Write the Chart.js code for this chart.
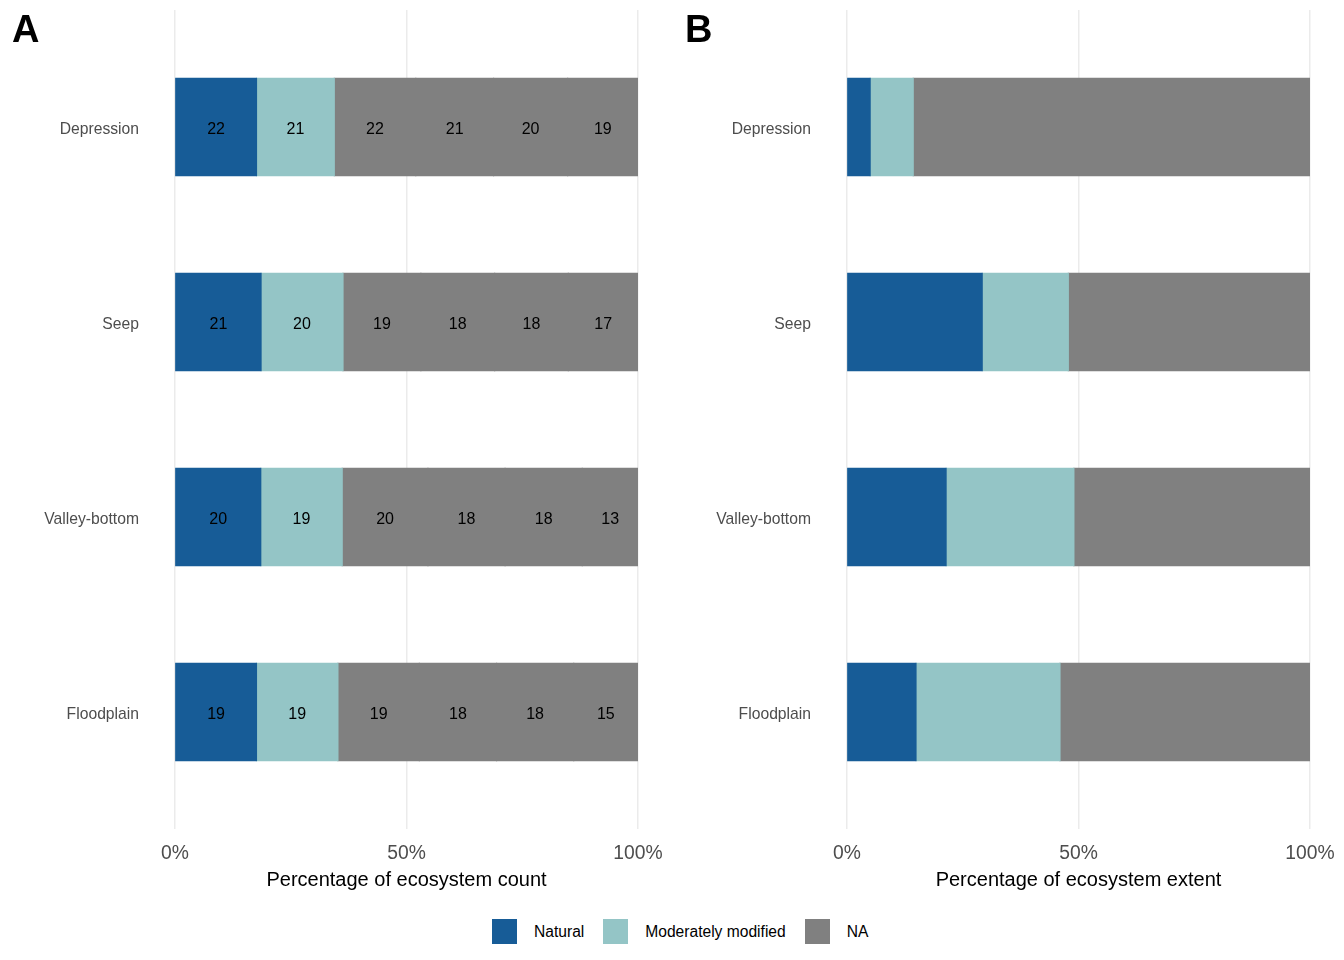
<!DOCTYPE html>
<html>
<head>
<meta charset="utf-8">
<script src="https://cdn.jsdelivr.net/npm/chart.js@4/dist/chart.umd.min.js"></script>
<style>
  body { margin: 0; background: #fff; font-family: "Liberation Sans", Arial, sans-serif; }
  #wrap { position: relative; width: 1344px; height: 960px; }
  .panel { position: absolute; top: 0; width: 672px; height: 900px; }
  .tag { position: absolute; top: 8px; font-size: 38px; font-weight: bold; color: #000; }
  #legend { position: absolute; top: 919px; left: 492px; display: flex; align-items: center; font-size: 15.6px; color: #000; }
  #legend span.box { display: inline-block; width: 25px; height: 25px; margin-right: 17px; }
  #legend span.lab { margin-right: 19px; }
</style>
</head>
<body>
<div id="wrap">
  <div class="panel" style="left:0"><canvas id="chartA"></canvas></div>
  <div class="panel" style="left:672px"><canvas id="chartB"></canvas></div>
  <div class="tag" style="left:12px">A</div>
  <div class="tag" style="left:685px">B</div>
  <div id="legend"></div>
</div>
<script>
const categories = ["Depression", "Seep", "Valley-bottom", "Floodplain"];

// Panel A: ecosystem counts per segment (NA holds four grey segments)
const naturalCount = [22, 21, 20, 19];
const moderateCount = [21, 20, 19, 19];
const naCount1 = [22, 19, 20, 19];
const naCount2 = [21, 18, 18, 18];
const naCount3 = [20, 18, 18, 18];
const naCount4 = [19, 17, 13, 15];

// Panel B: percentage of ecosystem extent
const naturalExtent = [5.0, 29.2, 21.4, 14.9];
const moderateExtent = [9.3, 18.6, 27.6, 31.1];
const naExtent = [85.7, 52.2, 51.0, 54.0];

const xTicks = [0, 50, 100];

const COLORS = { natural: "#175c97", moderate: "#94c5c6", na: "#808080" };
const FONT = "'Liberation Sans', Arial, sans-serif";

const legendItems = [
  { label: "Natural", color: COLORS.natural },
  { label: "Moderately modified", color: COLORS.moderate },
  { label: "NA", color: COLORS.na },
];

const positions = categories.map((c, i) => i + 1);

function toPoints(values) {
  return values.map((v, i) => ({ x: v, y: positions[i] }));
}

// Draw count labels inside each segment
const countLabels = {
  id: "countLabels",
  afterDatasetsDraw(chart) {
    const ctx = chart.ctx;
    ctx.save();
    ctx.font = "16px " + FONT;
    ctx.fillStyle = "#000";
    ctx.textAlign = "center";
    ctx.textBaseline = "middle";
    chart.data.datasets.forEach((ds, di) => {
      const meta = chart.getDatasetMeta(di);
      meta.data.forEach((bar, i) => {
        const p = bar.getCenterPoint();
        ctx.fillText(String(ds.counts[i]), p.x, p.y + 3);
      });
    });
    ctx.restore();
  },
};

function makeOptions(title) {
  return {
    indexAxis: "y",
    responsive: false,
    animation: false,
    layout: { padding: { top: 10, right: 34, left: 0, bottom: 0 } },
    plugins: { legend: { display: false }, tooltip: { enabled: false } },
    datasets: { bar: { barPercentage: 0.5, categoryPercentage: 1 } },
    scales: {
      x: {
        type: "linear",
        stacked: true,
        min: 0,
        max: 100,
        border: { display: false },
        grid: { color: "#ebebeb", lineWidth: 1.5, drawTicks: true, tickLength: 13, tickColor: "rgba(0,0,0,0)" },
        afterBuildTicks(scale) {
          scale.ticks = xTicks.map((v) => ({ value: v }));
        },
        afterFit(scale) {
          scale.height = 71;
        },
        ticks: {
          padding: 0,
          color: "#4d4d4d",
          font: { size: 19.3, family: FONT },
          callback: (v) => v + "%",
        },
        title: {
          display: true,
          text: title,
          color: "#000",
          font: { size: 20, family: FONT },
          padding: { top: 0, bottom: 8 },
        },
      },
      y: {
        type: "linear",
        stacked: true,
        reverse: true,
        offset: false,
        min: 0.4,
        max: 4.6,
        border: { display: false },
        grid: { display: false, drawTicks: true, tickLength: 36 },
        afterBuildTicks(scale) {
          scale.ticks = positions.map((v) => ({ value: v }));
        },
        afterFit(scale) {
          scale.width = 175;
        },
        ticks: {
          padding: 0,
          labelOffset: 3,
          color: "#4d4d4d",
          font: { size: 15.7, family: FONT },
          callback: (v) => categories[Math.round(v) - 1] || "",
        },
      },
    },
  };
}

function sizeCanvas(id) {
  const c = document.getElementById(id);
  c.width = 672;
  c.height = 900;
  c.style.width = "672px";
  c.style.height = "900px";
  return c;
}

function barSet(label, data, color, extra) {
  return Object.assign(
    { label, data, backgroundColor: color, borderWidth: 0, inflateAmount: 0.6 },
    extra || {},
  );
}

// Panel A: percentages from counts
const segmentsA = [
  { counts: naturalCount, color: COLORS.natural, label: "Natural" },
  { counts: moderateCount, color: COLORS.moderate, label: "Moderately modified" },
  { counts: naCount1, color: COLORS.na, label: "NA" },
  { counts: naCount2, color: COLORS.na, label: "NA" },
  { counts: naCount3, color: COLORS.na, label: "NA" },
  { counts: naCount4, color: COLORS.na, label: "NA" },
];
const totalsA = categories.map((c, i) =>
  segmentsA.reduce((s, seg) => s + seg.counts[i], 0),
);

new Chart(sizeCanvas("chartA"), {
  type: "bar",
  data: {
    datasets: segmentsA.map((seg) =>
      barSet(
        seg.label,
        toPoints(seg.counts.map((v, i) => (v / totalsA[i]) * 100)),
        seg.color,
        { counts: seg.counts },
      ),
    ),
  },
  options: makeOptions("Percentage of ecosystem count"),
  plugins: [countLabels],
});

new Chart(sizeCanvas("chartB"), {
  type: "bar",
  data: {
    datasets: [
      barSet("Natural", toPoints(naturalExtent), COLORS.natural),
      barSet("Moderately modified", toPoints(moderateExtent), COLORS.moderate),
      barSet("NA", toPoints(naExtent), COLORS.na),
    ],
  },
  options: makeOptions("Percentage of ecosystem extent"),
});

// Shared legend
const legend = document.getElementById("legend");
legendItems.forEach((item) => {
  const box = document.createElement("span");
  box.className = "box";
  box.style.background = item.color;
  const lab = document.createElement("span");
  lab.className = "lab";
  lab.textContent = item.label;
  legend.appendChild(box);
  legend.appendChild(lab);
});
</script>
</body>
</html>
